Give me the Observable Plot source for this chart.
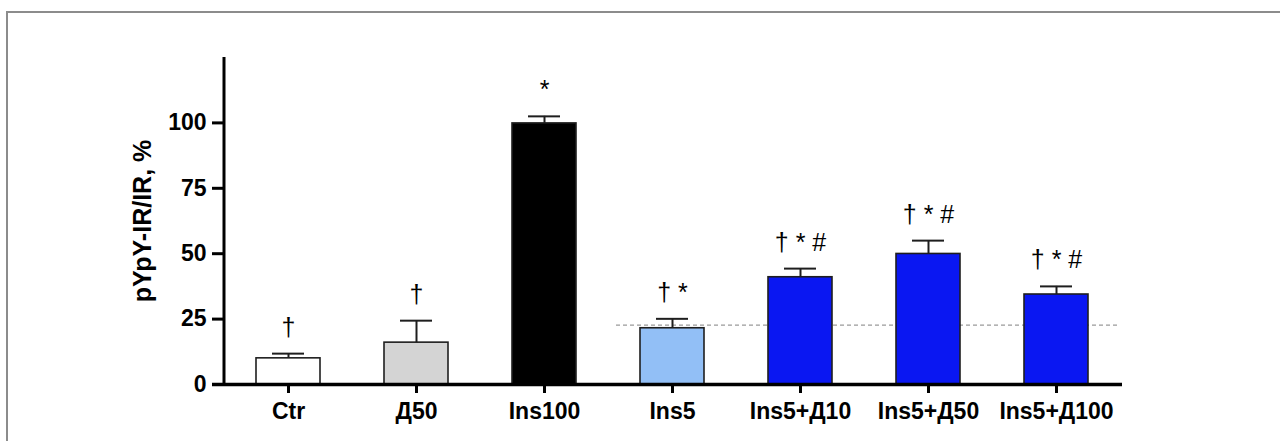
<!DOCTYPE html>
<html><head><meta charset="utf-8">
<script src="https://cdn.jsdelivr.net/npm/d3@7"></script>
<script src="https://cdn.jsdelivr.net/npm/@observablehq/plot@0.6"></script>
<style>
html,body{margin:0;padding:0;background:#fff;overflow:hidden;width:1280px;height:441px;}
#frame{position:absolute;left:6px;top:11px;width:1400px;height:600px;border-left:2px solid #8c8c8c;border-top:2px solid #8c8c8c;}
#chart{position:absolute;left:0;top:0;}
</style></head><body>
<div id="frame"></div>
<div id="chart"></div>
<script>
const categories = ["Ctr", "Д50", "Ins100", "Ins5", "Ins5+Д10", "Ins5+Д50", "Ins5+Д100"];
const means = [10, 16, 99.8, 21.5, 41, 49.9, 34.4];
const errors = [1.8, 8.4, 2.7, 3.6, 3.3, 5.1, 3.1];
const signif = ["†", "†", "*", "† *", "† * #", "† * #", "† * #"];
const barColors = ["#ffffff", "#d4d4d4", "#000000", "#92bff6", "#0a17f2", "#0a17f2", "#0a17f2"];
const yTicks = [0, 25, 50, 75, 100];
const yMax = 125;
const refLevel = 22.7;
const refFrom = "Ins5";
const refTo = "Ins5+Д100";
const yLabel = "pYpY-IR/IR, %";

const data = categories.map((c, i) => ({cat: c, mean: means[i], top: means[i] + errors[i], sig: signif[i]}));
const refData = [{y: refLevel, a: refFrom, b: refTo}];
const font = "'Liberation Sans', Arial, Helvetica, sans-serif";

const chart = Plot.plot({
  width: 1280,
  height: 441,
  marginLeft: 224,
  marginRight: 160,
  marginTop: 57,
  marginBottom: 57,
  style: {background: "transparent", fontFamily: font, color: "#000"},
  x: {domain: categories, paddingInner: 0.5, paddingOuter: 0.25},
  y: {domain: [0, yMax]},
  color: {domain: categories, range: barColors},
  marks: [
    Plot.ruleY(refData, {y: "y", x1: "a", x2: "b", insetLeft: -24, insetRight: -30, stroke: "#9a9a9a", strokeWidth: 1.3, strokeDasharray: "4,3"}),
    Plot.barY(data, {x: "cat", y: "mean", fill: "cat", stroke: "#1e1e1e", strokeWidth: 1.6}),
    Plot.ruleX(data, {x: "cat", y1: "mean", y2: "top", stroke: "#1e1e1e", strokeWidth: 2}),
    Plot.tickY(data, {x: "cat", y: "top", insetLeft: 16, insetRight: 16, stroke: "#1e1e1e", strokeWidth: 2}),
    Plot.text(data, {x: "cat", y: "top", text: "sig", dy: -26, fontSize: 25, fill: "#000"}),
    Plot.ruleY([0], {stroke: "#000", strokeWidth: 3.5, insetLeft: -12, insetRight: -2}),
    Plot.axisY({ticks: yTicks, tickSize: 12, tickPadding: 6, fontSize: 23, fontWeight: "bold", strokeWidth: 3, label: null}),
    Plot.axisX({tickSize: 9, tickPadding: 9, fontSize: 23, fontWeight: "bold", strokeWidth: 3, label: null}),
    Plot.text([yLabel], {frameAnchor: "left", textAnchor: "middle", lineAnchor: "middle", rotate: -90, dx: -82, fontSize: 25, fontWeight: "bold", fill: "#000"})
  ]
});

const xs = chart.scale("x");
const ys = chart.scale("y");
d3.select(chart).append("line")
  .attr("x1", xs.range[0]).attr("x2", xs.range[0])
  .attr("y1", ys.apply(0) + 1.5).attr("y2", ys.apply(yMax))
  .attr("stroke", "#000").attr("stroke-width", 3);

document.getElementById("chart").appendChild(chart);
</script>
</body></html>
